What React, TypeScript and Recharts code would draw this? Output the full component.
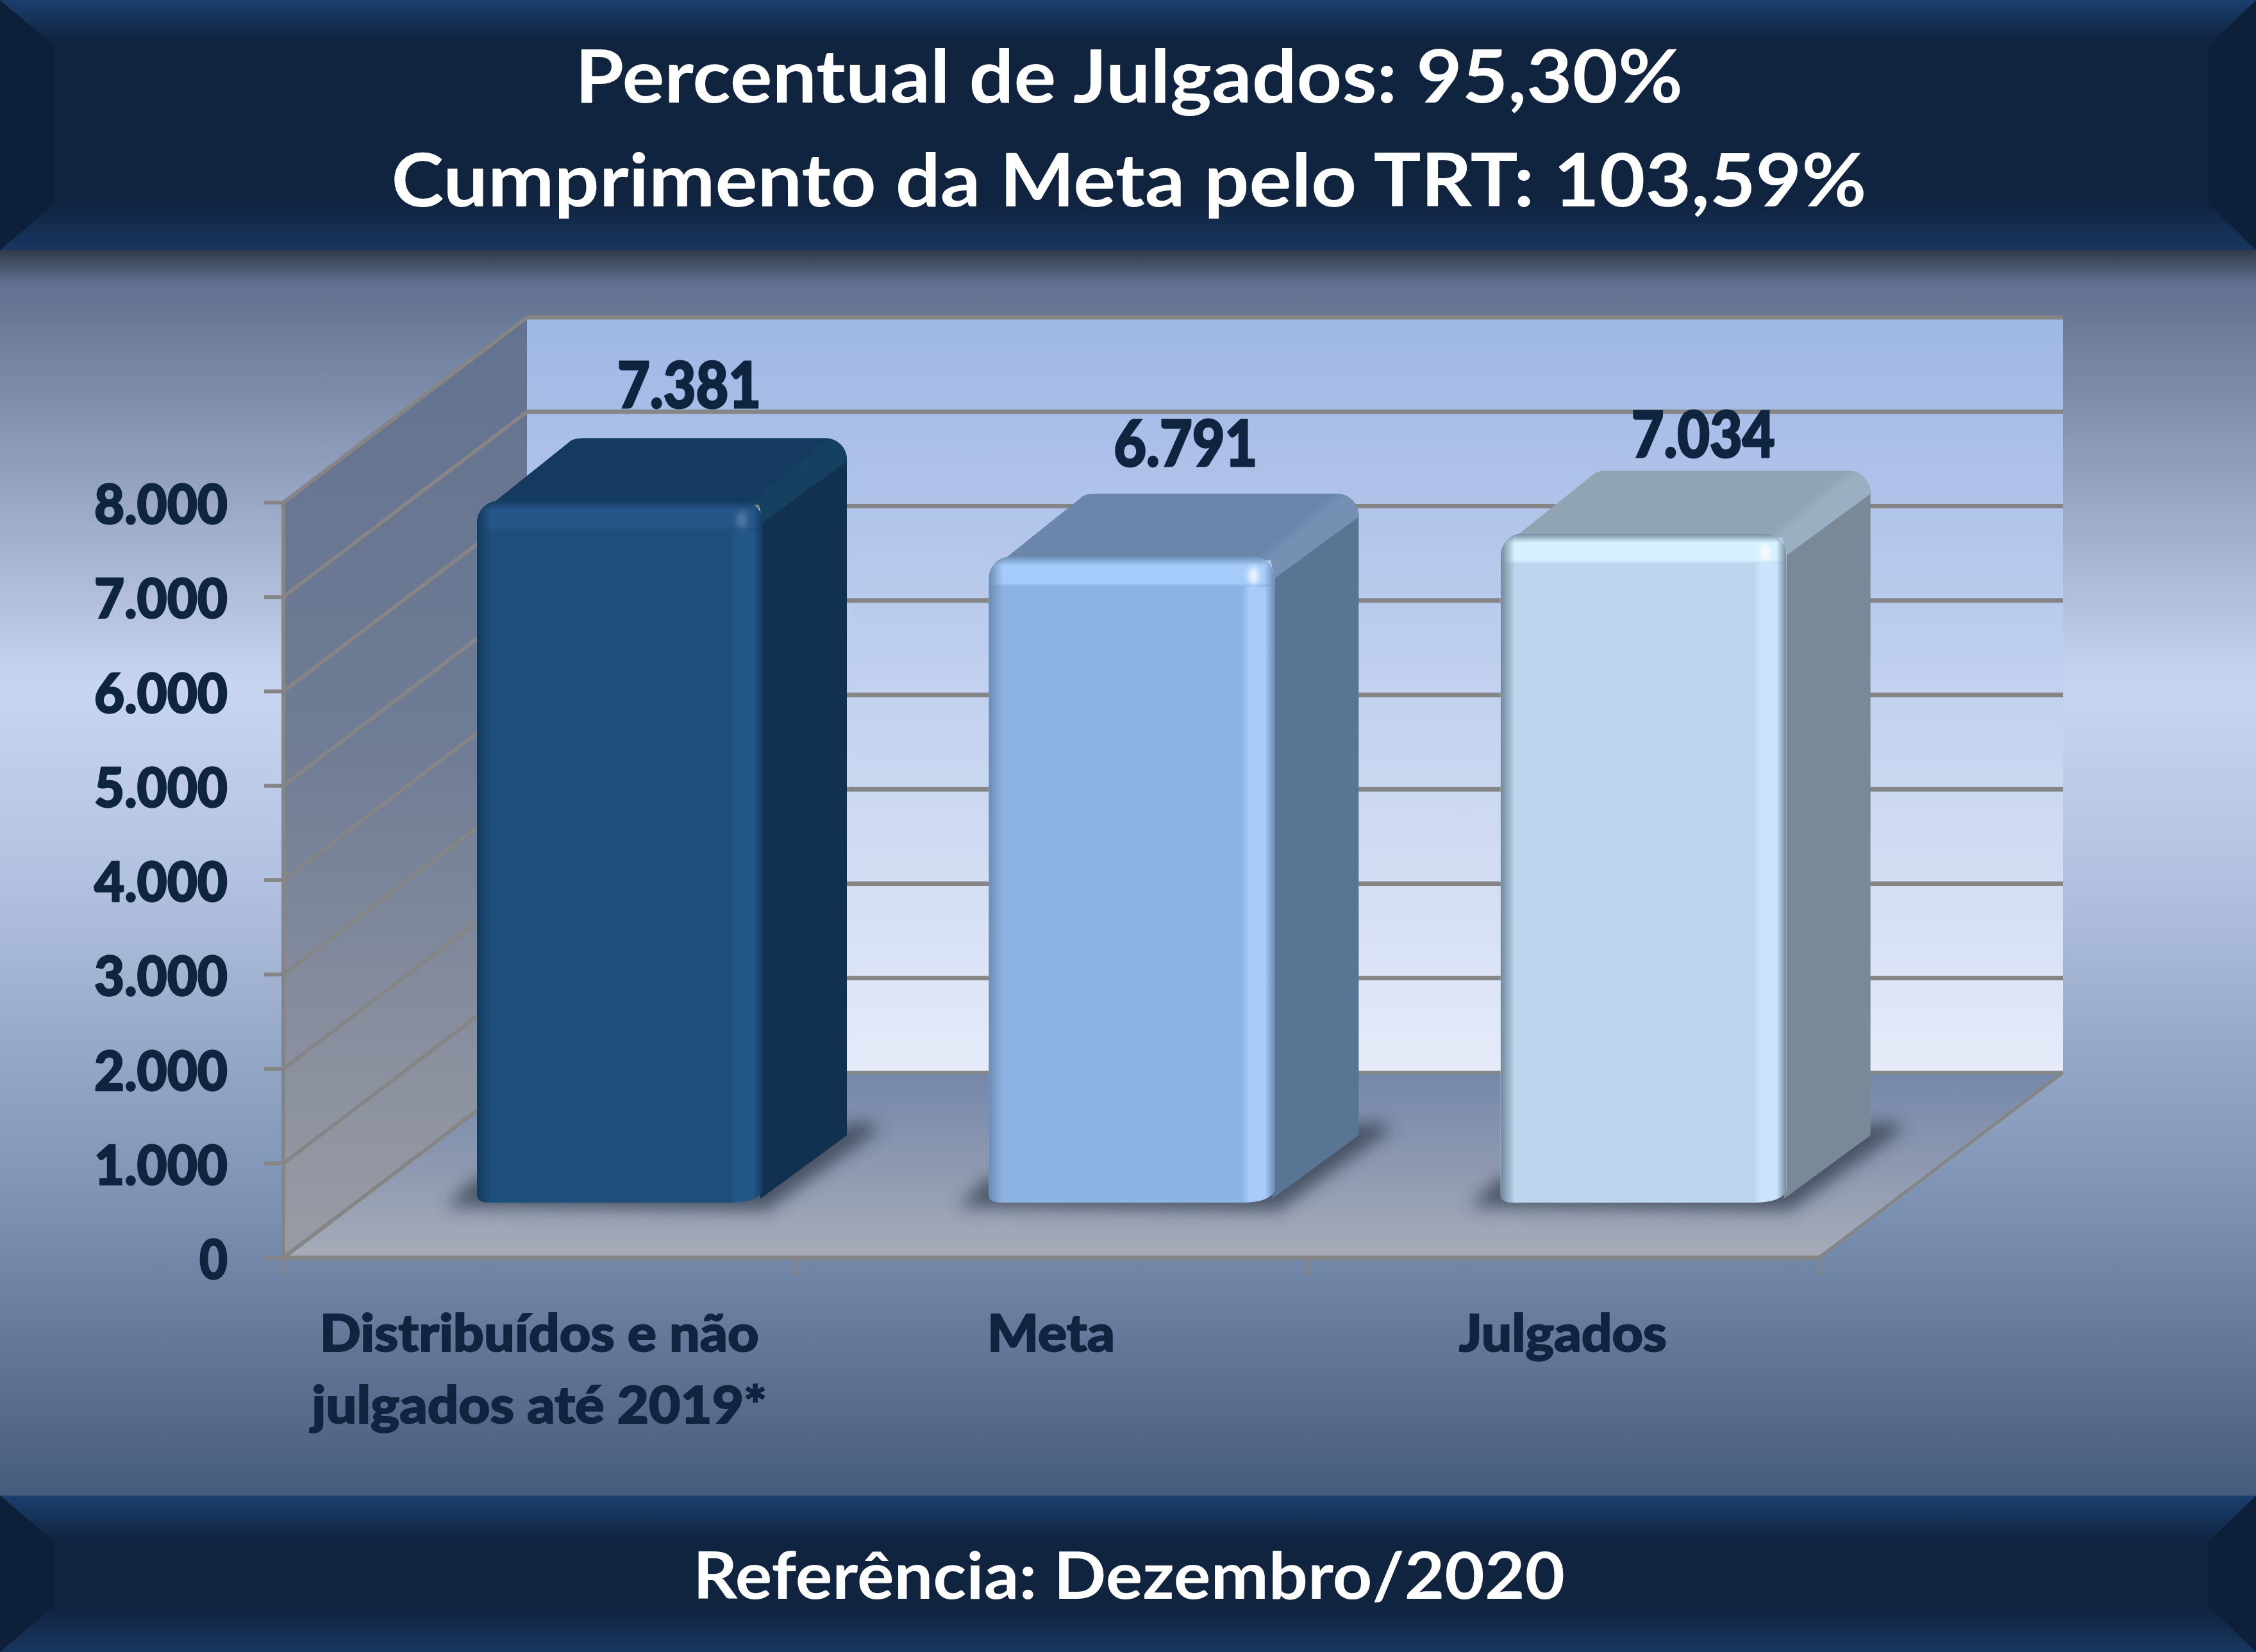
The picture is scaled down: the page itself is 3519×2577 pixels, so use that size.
import React from "react";
import { BarChart, Bar, XAxis, YAxis, LabelList } from "recharts";

const categories = ["Distribuídos e não julgados até 2019*", "Meta", "Julgados"];
const categoryLines = [["Distribuídos e não", "julgados até 2019*"], ["Meta"], ["Julgados"]];
const values = [7381, 6791, 7034];
const valueLabels = ["7.381", "6.791", "7.034"];
const yTicks = [0, 1000, 2000, 3000, 4000, 5000, 6000, 7000, 8000];
const yTickLabels = ["0", "1.000", "2.000", "3.000", "4.000", "5.000", "6.000", "7.000", "8.000"];
const data = categories.map((c, i) => ({ category: c, value: values[i] }));

const W = 3519, H = 2577;
const PL = 442, PR = 2837, PT = 784, PB = 1962;
const WALL_DX = 380, WALL_DY = 289;
const GRID = "#858585";
const INK = "#0f243e";
const FONT = "Lato, 'Noto Sans', sans-serif";
const BAR_DX = 131, BAR_DY = 98;

const palette = [
  { front: "#1e4f7c", side: "#12304f", top: "#153a60", bevel: "#18405f", hi: "#235789", glow: "#25568a", edge: "#123a5e" },
  { front: "#8cb3e2", side: "#5a7593", top: "#6b86aa", bevel: "#7690b4", hi: "#a9cbf8", glow: "#a5cbfa", edge: "#6a8db4" },
  { front: "#bcd6ee", side: "#798997", top: "#90a4b4", bevel: "#9bafc2", hi: "#cbe4fc", glow: "#d5f0ff", edge: "#708899" },
];
const labelDx = [331, 307, 316];
const labelBaseline = [-239, -235, -213];
const labelWidth = 224;
const xLabelWidths = [[685, 710], [199], [324]];

const Bar3D = (p: any) => {
  const i = p.index as number;
  const c = palette[i];
  const fx = p.x + 126, w = p.width, fr = fx + w;
  const ft = p.y - 94, fb = p.y + p.height - 86;
  const r = 34;
  const dx = BAR_DX, dy = BAR_DY;
  const frontPath = `M${fx},${fb - 12} L${fx},${ft + r} A${r},${r} 0 0 1 ${fx + r},${ft} L${fr - r},${ft} A${r},${r} 0 0 1 ${fr},${ft + r} L${fr},${fb - 20} Q${fr - 6},${fb} ${fr - 52},${fb} L${fx + 20},${fb} Q${fx},${fb} ${fx},${fb - 12} Z`;
  return (
    <g>
      <defs>
        <filter id={`sh${i}`} x="-30%" y="-30%" width="160%" height="160%">
          <feGaussianBlur stdDeviation="13" />
        </filter>
        <filter id={`sp${i}`} x="-100%" y="-100%" width="300%" height="300%">
          <feGaussianBlur stdDeviation="5" />
        </filter>
        <filter id={`st${i}`} x="-5%" y="-5%" width="110%" height="110%">
          <feGaussianBlur stdDeviation="5" />
        </filter>
        <linearGradient id={`fr${i}`} x1="0" x2="1" y1="0" y2="0">
          <stop offset="0" stopColor={c.front} />
          <stop offset="0.885" stopColor={c.front} />
          <stop offset="0.91" stopColor={c.hi} />
          <stop offset="1" stopColor={c.hi} />
        </linearGradient>
        <linearGradient id={`ed${i}`} x1="0" x2="1" y1="0" y2="0">
          <stop offset="0" stopColor={c.edge} stopOpacity="1" />
          <stop offset="0.05" stopColor={c.edge} stopOpacity="0" />
          <stop offset="0.965" stopColor={c.edge} stopOpacity="0" />
          <stop offset="1" stopColor={c.edge} stopOpacity="1" />
        </linearGradient>
        <linearGradient id={`bd${i}`} x1="0" x2="0" y1="0" y2="1">
          <stop offset="0" stopColor={c.edge} />
          <stop offset="0.3" stopColor={c.glow} />
          <stop offset="0.88" stopColor={c.glow} />
          <stop offset="1" stopColor={c.front} />
        </linearGradient>
        <clipPath id={`cl${i}`}>
          <path d={frontPath} />
        </clipPath>
        <clipPath id={`ct${i}`}>
          <path
            d={`M${fx + 12},${ft + 14} L${fx + 143},${ft - 91} Q${fx + 149},${ft - dy} ${fx + 168},${ft - dy} L${fr + dx - 34},${ft - dy} A34,34 0 0 1 ${fr + dx},${ft - dy + 36} L${fr},${ft + 34} L${fr - 6},${ft + 6} Z`}
          />
        </clipPath>
      </defs>
      <path
        d={`M${fx - 48},${fb + 6} L${fr + 6},${fb + 12} L${fr + dx + 52},${fb - 115} L${fr + dx + 30},${fb - 126} L${fx},${fb - 40} Z`}
        fill="#333c4d"
        opacity={0.75}
        filter={`url(#sh${i})`}
      />
      <path
        d={`M${fr - 4},${ft + 26} L${fr + dx},${ft - dy + 30} L${fr + dx},${fb - 105} L${fr - 4},${fb - 6} Z`}
        fill={c.side}
      />
      <g clipPath={`url(#ct${i})`}>
        <rect x={fx} y={ft - dy} width={w + dx} height={dy + 40} fill={c.top} />
        <path
          d={`M${fr - 20},${ft + 4} L${fr + dx - 30},${ft - dy + 2} L${fr + dx + 20},${ft - dy} L${fr + dx + 20},${ft - dy + 40} L${fr},${ft + 50} Z`}
          fill={c.bevel}
          filter={`url(#st${i})`}
        />
      </g>
      <path d={frontPath} fill={`url(#fr${i})`} />
      <g clipPath={`url(#cl${i})`}>
        <rect x={fx} y={ft} width={w} height={47} fill={`url(#bd${i})`} />
        <rect x={fx} y={ft} width={w} height={fb - ft} fill={`url(#ed${i})`} />
      </g>
      <ellipse cx={fr - 33} cy={ft + 30} rx={8} ry={14} fill="#ffffff" opacity={i === 0 ? 0.2 : 0.85} filter={`url(#sp${i})`} />
    </g>
  );
};

const EmptyBar = () => <g />;

const YTick = (p: any) => {
  const v = p.payload.value as number;
  const idx = yTicks.indexOf(v);
  const y = p.y as number;
  const by = y - WALL_DY;
  return (
    <g>
      <line x1={PL - 30} x2={PL} y1={y} y2={y} stroke={GRID} strokeWidth={6} />
      <line x1={PL} y1={y} x2={PL + WALL_DX} y2={by} stroke={GRID} strokeWidth={6} />
      <line x1={PL + WALL_DX} y1={by} x2={PR + WALL_DX + 1} y2={by} stroke={GRID} strokeWidth={v === 0 ? 5 : 7} />
      <text
        x={355}
        y={y + 33}
        textAnchor="end"
        fontFamily={FONT}
        fontWeight={900}
        fontSize={85}
        fill={INK}
        stroke={INK}
        strokeWidth={2.5}
        textLength={v === 0 ? 44 : 208}
        lengthAdjust="spacingAndGlyphs"
      >
        {yTickLabels[idx]}
      </text>
    </g>
  );
};

const XTick = (p: any) => {
  const x = p.x as number;
  const i = p.index as number;
  const half = (PR - PL) / categories.length / 2;
  return (
    <g>
      <line x1={x - half} x2={x - half} y1={PB} y2={PB + 29} stroke={GRID} strokeWidth={4} />
      <line x1={x + half} x2={x + half} y1={PB} y2={PB + 29} stroke={GRID} strokeWidth={4} />
      {categoryLines[i].map((t, k) => (
        <text
          key={k}
          x={x}
          y={2108 + k * 112}
          textAnchor="middle"
          fontFamily={FONT}
          fontWeight={900}
          fontSize={80}
          fill={INK}
          stroke={INK}
          strokeWidth={2}
          textLength={xLabelWidths[i][k]}
          lengthAdjust="spacingAndGlyphs"
        >
          {t}
        </text>
      ))}
    </g>
  );
};

const ValueLabel = (p: any) => {
  const i = p.index as number;
  return (
    <text
      x={p.x + labelDx[i] + 126 - labelWidth / 2}
      y={p.y + labelBaseline[i]}
      textAnchor="start"
      fontFamily={FONT}
      fontWeight={900}
      fontSize={100}
      fill={INK}
      stroke={INK}
      strokeWidth={3}
      textLength={labelWidth}
      lengthAdjust="spacingAndGlyphs"
    >
      {valueLabels[i]}
    </text>
  );
};

const HeaderBand = ({ y, h }: { y: number; h: number }) => {
  const b = 72;
  return (
    <g>
      <rect x={0} y={y} width={W} height={h} fill={`url(#band${y})`} />
      <polygon points={`0,${y} 85,${y + b} 85,${y + h - b} 0,${y + h}`} fill="#0e2039" />
      <polygon points={`${W},${y} ${W - 74},${y + b} ${W - 74},${y + h - b} ${W},${y + h}`} fill="#0e2039" />
    </g>
  );
};

const Title = ({ text, y, width, size }: { text: string; y: number; width: number; size: number }) => (
  <text
    x={1761}
    y={y}
    textAnchor="middle"
    fontFamily={FONT}
    fontWeight={700}
    fontSize={size}
    fill="#ffffff"
    textLength={width}
    lengthAdjust="spacingAndGlyphs"
  >
    {text}
  </text>
);

const layer: React.CSSProperties = { position: "absolute", left: 0, top: 0 };

export default function App() {
  return (
    <div style={{ position: "absolute", left: 0, top: 0, width: W, height: H, overflow: "hidden" }}>
      <svg width={W} height={H} style={layer}>
        <defs>
          <linearGradient id="bg" x1="0" x2="0" y1="0" y2="1">
            <stop offset="0" stopColor="#586886" />
            <stop offset="0.35" stopColor="#c8d5f0" />
            <stop offset="0.5" stopColor="#b3c2e0" />
            <stop offset="0.78" stopColor="#7a8fb0" />
            <stop offset="1" stopColor="#465c7c" />
          </linearGradient>
          <linearGradient id="topShadow" x1="0" x2="0" y1="0" y2="1">
            <stop offset="0" stopColor="#2f3948" stopOpacity="0.95" />
            <stop offset="1" stopColor="#2f3948" stopOpacity="0" />
          </linearGradient>
          <linearGradient id="band0" x1="0" x2="0" y1="0" y2="1">
            <stop offset="0" stopColor="#1b3f6e" />
            <stop offset="0.17" stopColor="#10233f" />
            <stop offset="0.8" stopColor="#10233f" />
            <stop offset="1" stopColor="#18365f" />
          </linearGradient>
          <linearGradient id="band2333" x1="0" x2="0" y1="0" y2="1">
            <stop offset="0" stopColor="#1b3f6e" />
            <stop offset="0.3" stopColor="#10233f" />
            <stop offset="0.7" stopColor="#10233f" />
            <stop offset="1" stopColor="#18365f" />
          </linearGradient>
          <linearGradient id="backWall" x1="0" x2="0" y1="0" y2="1">
            <stop offset="0" stopColor="#9fb7e5" />
            <stop offset="1" stopColor="#e5ebf8" />
          </linearGradient>
          <linearGradient id="sideWall" x1="0" x2="0" y1="0" y2="1">
            <stop offset="0" stopColor="#63728f" />
            <stop offset="0.45" stopColor="#6f7c95" />
            <stop offset="1" stopColor="#9a9ca4" />
          </linearGradient>
          <linearGradient id="floor" x1="0" x2="0" y1="0" y2="1">
            <stop offset="0" stopColor="#7587aa" />
            <stop offset="1" stopColor="#a6abb7" />
          </linearGradient>
        </defs>
        <rect x={0} y={390} width={W} height={1943} fill="url(#bg)" />
        <rect x={0} y={390} width={W} height={50} fill="url(#topShadow)" />
        <polygon
          points={`${PL + WALL_DX},${PT - WALL_DY} ${PR + WALL_DX + 1},${PT - WALL_DY} ${PR + WALL_DX + 1},${PB - WALL_DY} ${PL + WALL_DX},${PB - WALL_DY}`}
          fill="url(#backWall)"
        />
        <polygon
          points={`${PL},${PT} ${PL + WALL_DX},${PT - WALL_DY} ${PL + WALL_DX},${PB - WALL_DY} ${PL},${PB}`}
          fill="url(#sideWall)"
        />
        <polygon
          points={`${PL},${PB} ${PL + WALL_DX},${PB - WALL_DY} ${PR + WALL_DX + 1},${PB - WALL_DY} ${PR},${PB}`}
          fill="url(#floor)"
        />
        <line x1={PR} y1={PB} x2={PR + WALL_DX + 1} y2={PB - WALL_DY} stroke={GRID} strokeWidth={5} />
        <HeaderBand y={0} h={390} />
        <HeaderBand y={2333} h={244} />
        <Title text="Percentual de Julgados: 95,30%" y={160} width={1728} size={114} />
        <Title text="Cumprimento da Meta pelo TRT: 103,59%" y={322} width={2301} size={114} />
        <Title text="Referência: Dezembro/2020" y={2494} width={1360} size={102} />
      </svg>
      <div style={layer}>
        <BarChart
          width={W}
          height={H}
          data={data}
          margin={{ top: PT, left: PL - 100, right: W - PR, bottom: H - PB - 100 }}
        >
          <YAxis
            width={100}
            domain={[0, 8000]}
            ticks={yTicks}
            interval={0}
            tickLine={false}
            axisLine={{ stroke: GRID, strokeWidth: 6 }}
            tick={YTick}
          />
          <XAxis
            dataKey="category"
            height={100}
            interval={0}
            tickLine={false}
            axisLine={{ stroke: GRID, strokeWidth: 7 }}
            tick={XTick}
          />
          <Bar dataKey="value" isAnimationActive={false} shape={EmptyBar} />
        </BarChart>
      </div>
      <div style={layer}>
        <BarChart
          width={W}
          height={H}
          data={data}
          margin={{ top: PT, left: PL, right: W - PR, bottom: H - PB }}
        >
          <YAxis hide domain={[0, 8000]} ticks={yTicks} />
          <XAxis hide dataKey="category" />
          <Bar dataKey="value" barSize={446} isAnimationActive={false} shape={Bar3D}>
            <LabelList dataKey="value" content={ValueLabel} />
          </Bar>
        </BarChart>
      </div>
    </div>
  );
}
